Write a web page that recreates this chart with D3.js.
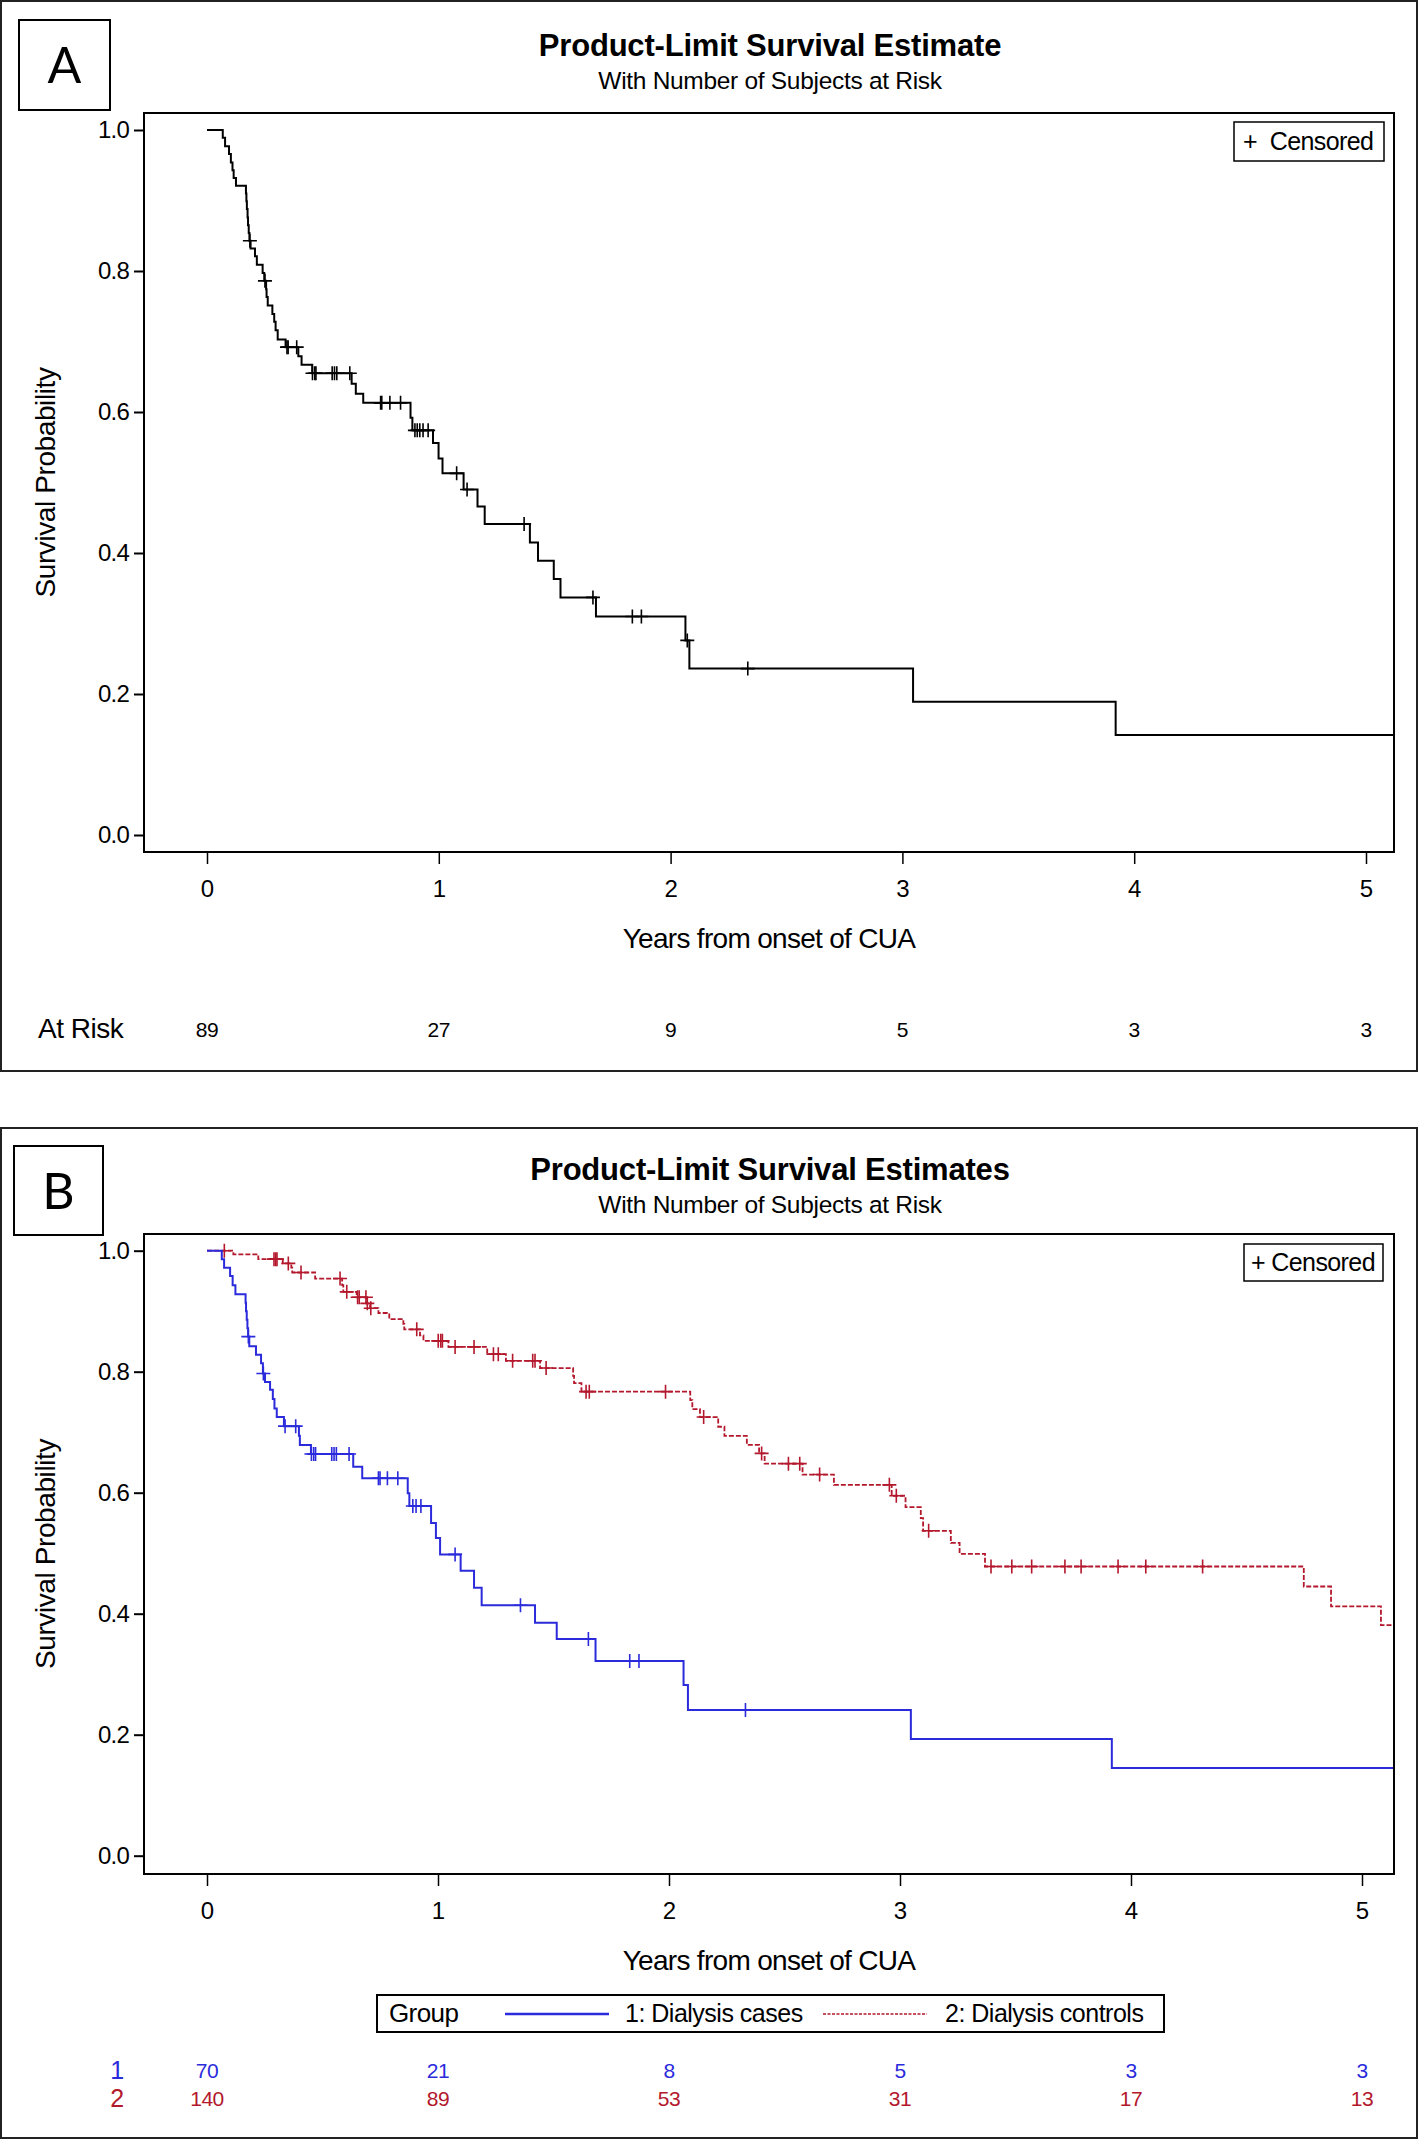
<!DOCTYPE html>
<html><head><meta charset="utf-8">
<script src="https://cdn.jsdelivr.net/npm/d3@7"></script>
<style>body{margin:0;background:#fff}svg{display:block}text{font-family:"Liberation Sans",Arial,sans-serif}</style>
</head><body>
<script>
// ---------- DATA ----------
const xTicks = [0, 1, 2, 3, 4, 5];
const yTicks = [0, 0.2, 0.4, 0.6, 0.8, 1.0];
const atRiskA = [89, 27, 9, 5, 3, 3];
const atRiskB1 = [70, 21, 8, 5, 3, 3];
const atRiskB2 = [140, 89, 53, 31, 17, 13];

// Panel A: all patients
const aEventTimes = [0.068,0.078,0.095,0.103,0.110,0.115,0.125,0.168,0.170,0.172,0.175,0.177,0.180,0.183,0.188,0.207,0.215,0.240,0.247,0.255,0.257,0.262,0.282,0.290,0.296,0.305,0.339,0.394,0.408,0.454,0.624,0.642,0.674,0.878,0.886,0.975,0.999,1.016,1.107,1.167,1.198,1.393,1.428,1.496,1.525,1.678,2.064,2.081,3.046,3.920];
const aEventSurv  = [0.989,0.977,0.966,0.954,0.943,0.932,0.921,0.910,0.899,0.888,0.876,0.865,0.854,0.843,0.832,0.821,0.809,0.797,0.786,0.774,0.763,0.751,0.739,0.728,0.716,0.703,0.692,0.679,0.667,0.655,0.640,0.626,0.613,0.592,0.574,0.556,0.534,0.513,0.490,0.466,0.441,0.415,0.389,0.363,0.337,0.310,0.276,0.236,0.189,0.142];
const aCensorTimes = [0.185,0.250,0.345,0.350,0.387,0.455,0.465,0.470,0.540,0.550,0.560,0.616,0.749,0.754,0.789,0.835,0.897,0.907,0.918,0.932,0.954,1.077,1.122,1.368,1.665,1.835,1.874,2.072,2.333];

// Panel B group 1: Dialysis cases
const b1EventTimes = [0.064,0.074,0.100,0.111,0.123,0.167,0.169,0.172,0.175,0.178,0.183,0.212,0.234,0.242,0.251,0.273,0.285,0.292,0.302,0.333,0.398,0.402,0.450,0.633,0.672,0.869,0.876,0.970,0.991,1.009,1.098,1.156,1.189,1.420,1.514,1.682,2.063,2.082,3.047,3.917];
const b1EventSurv  = [0.986,0.972,0.958,0.943,0.928,0.914,0.900,0.886,0.872,0.858,0.842,0.828,0.814,0.797,0.783,0.770,0.755,0.739,0.725,0.710,0.694,0.679,0.664,0.643,0.624,0.599,0.578,0.550,0.525,0.498,0.471,0.443,0.414,0.385,0.358,0.322,0.282,0.241,0.193,0.145];
const b1CensorTimes = [0.179,0.244,0.338,0.384,0.452,0.462,0.470,0.540,0.550,0.560,0.615,0.742,0.749,0.781,0.826,0.891,0.905,0.926,1.074,1.357,1.651,1.830,1.870,2.331];

// Panel B group 2: Dialysis controls
const b2EventTimes = [0.114,0.222,0.328,0.365,0.369,0.468,0.585,0.590,0.648,0.690,0.706,0.742,0.789,0.850,0.854,0.922,0.937,1.045,1.213,1.294,1.442,1.585,1.589,1.621,2.092,2.101,2.134,2.213,2.240,2.337,2.390,2.414,2.578,2.714,2.964,3.024,3.090,3.100,3.220,3.258,3.368,4.748,4.866,5.082];
const b2EventSurv  = [0.994,0.986,0.979,0.972,0.964,0.954,0.943,0.932,0.923,0.913,0.905,0.897,0.887,0.879,0.870,0.860,0.851,0.841,0.829,0.818,0.806,0.793,0.781,0.767,0.753,0.738,0.725,0.709,0.694,0.679,0.665,0.648,0.630,0.613,0.595,0.576,0.558,0.537,0.517,0.499,0.478,0.445,0.412,0.381];
const b2CensorTimes = [0.075,0.290,0.297,0.303,0.352,0.407,0.576,0.605,0.652,0.659,0.688,0.694,0.709,0.908,1.001,1.012,1.019,1.074,1.156,1.240,1.261,1.323,1.410,1.420,1.468,1.641,1.655,1.985,2.150,2.401,2.517,2.566,2.652,2.954,2.984,3.124,3.394,3.484,3.570,3.714,3.784,3.944,4.064,4.310];

const BLUE = "#2b2bdc", RED = "#b3182d";

// ---------- DRAW ----------
const svg = d3.select("body").append("svg").attr("width", 1419).attr("height", 2140);

function survAt(times, surv, t) {
  let s = 1;
  for (let i = 0; i < times.length; i++) { if (times[i] <= t) s = surv[i]; else break; }
  return s;
}

function drawPanel(cfg) {
  const g = svg.append("g");
  g.append("rect").attr("x", cfg.border[0]).attr("y", cfg.border[1])
    .attr("width", cfg.border[2]).attr("height", cfg.border[3])
    .attr("fill", "none").attr("stroke", "#222").attr("stroke-width", 2);
  g.append("rect").attr("x", cfg.letterBox[0]).attr("y", cfg.letterBox[1])
    .attr("width", cfg.letterBox[2]).attr("height", cfg.letterBox[3])
    .attr("fill", "none").attr("stroke", "#000").attr("stroke-width", 2);
  g.append("text").attr("x", cfg.letterBox[0] + cfg.letterBox[2] / 2)
    .attr("y", cfg.letterBox[1] + cfg.letterBox[3] / 2 + 18)
    .attr("text-anchor", "middle").style("font-family", "Lato, 'Open Sans', sans-serif")
    .attr("font-size", 50).text(cfg.letter);
  g.append("text").attr("x", 770).attr("y", cfg.titleY).attr("text-anchor", "middle")
    .attr("font-size", 31).attr("font-weight", "bold").attr("letter-spacing", -0.2).text(cfg.title);
  g.append("text").attr("x", 770).attr("y", cfg.titleY + 33).attr("text-anchor", "middle")
    .attr("font-size", 24.5).attr("letter-spacing", -0.3).text("With Number of Subjects at Risk");

  const fr = cfg.frame;
  const x = d3.scaleLinear().domain([0, 5]).range(cfg.xRange);
  const y = d3.scaleLinear().domain([0, 1]).range(cfg.yRange);

  const ya = g.append("g").attr("transform", `translate(${fr[0]},0)`)
    .call(d3.axisLeft(y).tickValues(yTicks).tickSize(10).tickPadding(5).tickFormat(d3.format(".1f")));
  ya.select(".domain").remove();
  ya.selectAll("line").attr("stroke", "#000").attr("stroke-width", 2);
  ya.selectAll("text").attr("font-size", 24).attr("fill", "#000").attr("letter-spacing", -0.8)
    .style("font-family", "'Liberation Sans', Arial, sans-serif");
  const xa = g.append("g").attr("transform", `translate(0,${fr[3]})`)
    .call(d3.axisBottom(x).tickValues(xTicks).tickSize(12).tickPadding(16).tickFormat(d3.format("d")));
  xa.select(".domain").remove();
  xa.selectAll("line").attr("stroke", "#000").attr("stroke-width", 1.5);
  xa.selectAll("text").attr("font-size", 24).attr("fill", "#000")
    .style("font-family", "'Liberation Sans', Arial, sans-serif");

  g.append("text").attr("x", 769).attr("y", fr[3] + 96).attr("text-anchor", "middle")
    .attr("font-size", 28).attr("letter-spacing", -0.7).text("Years from onset of CUA");
  g.append("text").attr("transform", `translate(55,${(fr[1] + fr[3]) / 2}) rotate(-90)`)
    .attr("text-anchor", "middle").attr("font-size", 28).attr("letter-spacing", -0.4).text("Survival Probability");

  const tEnd = x.invert(fr[2]);
  const line = d3.line().x(d => x(d[0])).y(d => y(d[1])).curve(d3.curveStepAfter);
  cfg.series.forEach(s => {
    const pts = [[0, 1]].concat(s.times.map((t, i) => [t, s.surv[i]]));
    pts.push([tEnd, s.surv[s.surv.length - 1]]);
    g.append("path").attr("d", line(pts)).attr("fill", "none").attr("stroke", s.color)
      .attr("stroke-width", s.width).attr("stroke-dasharray", s.dash || null);
    g.selectAll(null).data(s.censor).join("path")
      .attr("transform", c => `translate(${x(c)},${y(survAt(s.times, s.surv, c))})`)
      .attr("d", "M-7,0H7M0,-7V7").attr("stroke", s.color).attr("stroke-width", 1.6).attr("fill", "none");
  });

  g.append("rect").attr("x", fr[0]).attr("y", fr[1]).attr("width", fr[2] - fr[0]).attr("height", fr[3] - fr[1])
    .attr("fill", "none").attr("stroke", "#000").attr("stroke-width", 2);

  const cl = cfg.censLegend;
  g.append("rect").attr("x", cl[0]).attr("y", cl[1]).attr("width", cl[2]).attr("height", cl[3])
    .attr("fill", "#fff").attr("stroke", "#000").attr("stroke-width", 1.5);
  g.append("text").attr("x", cl[0] + cl[4]).attr("y", cl[1] + cl[3] / 2 + 8).attr("font-size", 25)
    .attr("letter-spacing", -0.6).attr("xml:space", "preserve").text(cfg.censText);

  cfg.risk.forEach(r => {
    g.append("text").attr("x", r.labelX).attr("y", r.y).attr("text-anchor", r.anchor)
      .attr("font-size", r.labelSize).attr("fill", r.color).attr("letter-spacing", -0.5).text(r.label);
    g.selectAll(null).data(r.values).join("text")
      .attr("x", (d, i) => x(xTicks[i])).attr("y", r.y - 1).attr("text-anchor", "middle")
      .attr("font-size", 21).attr("fill", r.color).attr("letter-spacing", -0.5).text(d => d);
  });
  return {g, x, y};
}

drawPanel({
  border: [1, 1, 1416, 1070], letterBox: [19, 20, 91, 90], letter: "A",
  title: "Product-Limit Survival Estimate", titleY: 56,
  frame: [144, 113, 1394, 852], xRange: [207, 1366], yRange: [835, 130],
  series: [{times: aEventTimes, surv: aEventSurv, censor: aCensorTimes, color: "#000", width: 2}],
  censLegend: [1234, 122, 150, 39, 9], censText: "+  Censored",
  risk: [{label: "At Risk", labelX: 38, anchor: "start", labelSize: 28, y: 1038, values: atRiskA, color: "#000"}]
});

drawPanel({
  border: [1, 1128, 1416, 1010], letterBox: [14, 1146, 89, 89], letter: "B",
  title: "Product-Limit Survival Estimates", titleY: 1180,
  frame: [144, 1234, 1394, 1874], xRange: [207, 1362], yRange: [1855.7, 1250.7],
  series: [
    {times: b2EventTimes, surv: b2EventSurv, censor: b2CensorTimes, color: RED, width: 1.8, dash: "5,2"},
    {times: b1EventTimes, surv: b1EventSurv, censor: b1CensorTimes, color: BLUE, width: 2}
  ],
  censLegend: [1244, 1244, 139, 37, 7], censText: "+ Censored",
  risk: [
    {label: "1", labelX: 117, anchor: "middle", labelSize: 25, y: 2079, values: atRiskB1, color: BLUE},
    {label: "2", labelX: 117, anchor: "middle", labelSize: 25, y: 2107, values: atRiskB2, color: RED}
  ]
});

const lg = svg.append("g");
lg.append("rect").attr("x", 377).attr("y", 1995).attr("width", 787).attr("height", 37)
  .attr("fill", "#fff").attr("stroke", "#000").attr("stroke-width", 2);
lg.append("text").attr("x", 389).attr("y", 2022).attr("font-size", 26).attr("letter-spacing", -0.6).text("Group");
lg.append("line").attr("x1", 505).attr("x2", 609).attr("y1", 2014).attr("y2", 2014).attr("stroke", BLUE).attr("stroke-width", 2.5);
lg.append("text").attr("x", 625).attr("y", 2022).attr("font-size", 25).attr("letter-spacing", -0.5).text("1: Dialysis cases");
lg.append("line").attr("x1", 823).attr("x2", 927).attr("y1", 2014).attr("y2", 2014).attr("stroke", RED).attr("stroke-width", 1.5).attr("stroke-dasharray", "3,1.5");
lg.append("text").attr("x", 945).attr("y", 2022).attr("font-size", 25).attr("letter-spacing", -0.5).text("2: Dialysis controls");
</script>
</body></html>
